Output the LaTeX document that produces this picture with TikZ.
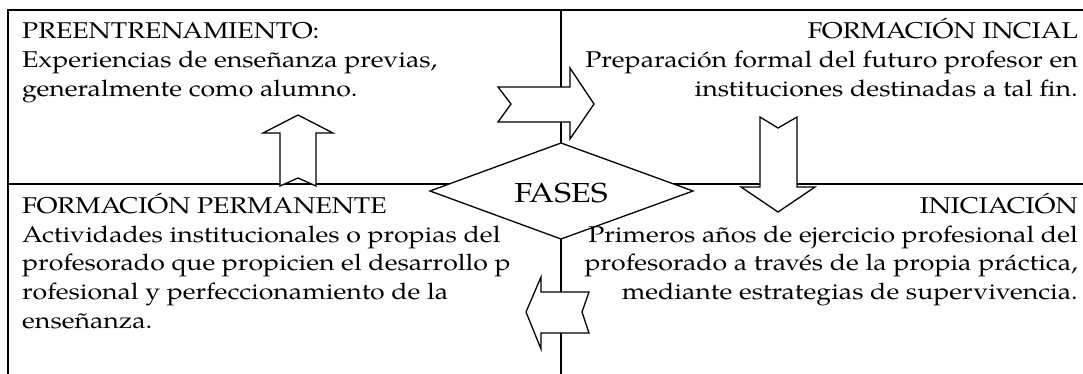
\documentclass[tikz,border=0pt]{standalone}
\usepackage{fontspec}
\setmainfont{TeX Gyre Pagella}[FakeStretch=1.17]
\begin{document}
\begin{tikzpicture}[x=1pt,y=-1pt,
  frame/.style={line width=1.8pt, line cap=rect},
  blockarrow/.style={draw, fill=white, line width=1.3pt, line join=miter},
  txt/.style={inner sep=0pt, font=\fontsize{22.8}{29}\selectfont},
  lt/.style={txt, anchor=base west},
  rt/.style={txt, anchor=base east}]
\useasboundingbox (0,0) rectangle (1083,373);
% frame lines
\draw[frame] (8,373) -- (8,10) -- (1083,10);
\draw[frame] (8,184) -- (1083,184);
\draw[frame] (561,10) -- (561,373);
% block arrows
\draw[blockarrow] (498,87) -- (570,87) -- (570,68) -- (594,104) -- (570,139) -- (570,122) -- (498,122) -- (511,104) -- cycle;
\draw[blockarrow] (760,117) -- (778,128) -- (797,117) -- (797,187) -- (815,187) -- (778,212) -- (741,187) -- (760,187) -- cycle;
\draw[blockarrow] (280,186) -- (298,178) -- (316,186) -- (316,133) -- (333,133) -- (298,115) -- (263,133) -- (280,133) -- cycle;
\draw[blockarrow] (589,292) -- (582,312) -- (589,333) -- (541,333) -- (541,349) -- (526,312) -- (541,277) -- (541,292) -- cycle;
% diamond
\draw[blockarrow] (430,191) -- (561,143) -- (693,191) -- (561,239) -- cycle;
\node[inner sep=0pt, anchor=base, font=\fontsize{27.5}{34}\selectfont] (fases) at (561,202) {FASES};
% top-left
\node[lt] (tl1) at (22,38) {PREENTRENAMIENTO:};
\node[lt] (tl2) at (22,67) {Experiencias de enseñanza previas,};
\node[lt] (tl3) at (22,96) {generalmente como alumno.};
% top-right
\node[rt] (tr1) at (1078,38) {FORMACIÓN INCIAL};
\node[rt] (tr2) at (1078,67) {Preparación formal del futuro profesor en};
\node[rt] (tr3) at (1078,96) {instituciones destinadas a tal fin.};
% bottom-left
\node[lt] (bl1) at (22,213) {FORMACIÓN PERMANENTE};
\node[lt] (bl2) at (22,242) {Actividades institucionales o propias del};
\node[lt] (bl3) at (22,270) {profesorado que propicien el desarrollo p};
\node[lt] (bl4) at (22,299) {rofesional y perfeccionamiento de la};
\node[lt] (bl5) at (22,328) {enseñanza.};
% bottom-right
\node[rt] (br1) at (1078,213) {INICIACIÓN};
\node[rt] (br2) at (1078,242) {Primeros años de ejercicio profesional del};
\node[rt] (br3) at (1078,270) {profesorado a través de la propia práctica,};
\node[rt] (br4) at (1078,299) {mediante estrategias de supervivencia.};
\end{tikzpicture}
\end{document}
